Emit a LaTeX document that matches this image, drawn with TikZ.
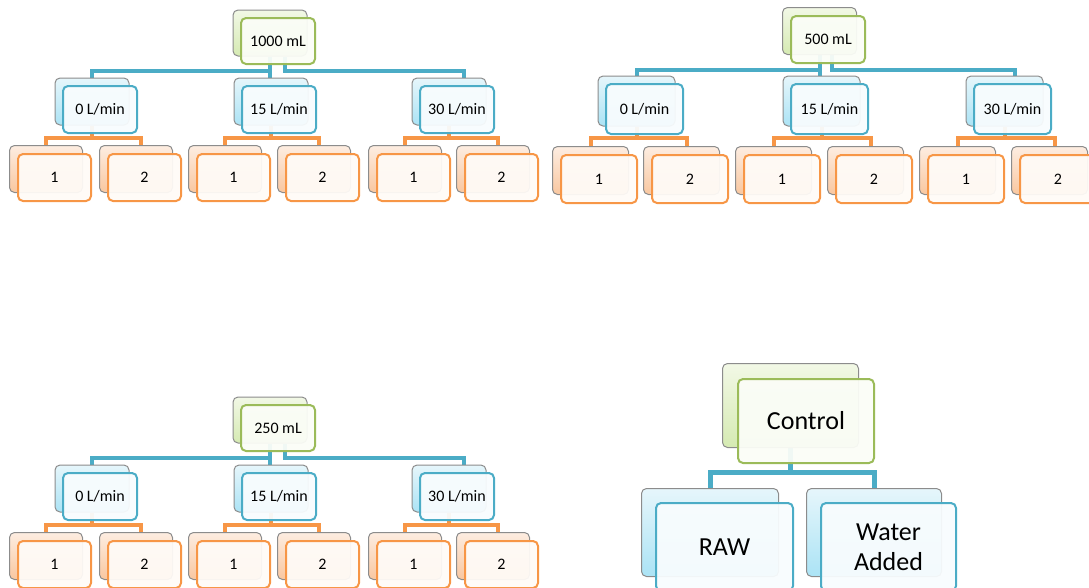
\documentclass[tikz,border=0pt]{standalone}
\usepackage{fontspec}
\setmainfont{Carlito}
\usetikzlibrary{calc}
\pgfdeclarelayer{bg}
\pgfsetlayers{bg,main}
\definecolor{grnB}{HTML}{9BBB59}
\definecolor{bluB}{HTML}{4BACC6}
\definecolor{orB}{HTML}{F79646}
\definecolor{backgray}{HTML}{8C8C8C}
\definecolor{gTop}{HTML}{F2F8E6}
\definecolor{gBot}{HTML}{D5EAB2}
\definecolor{bTop}{HTML}{E6F6FB}
\definecolor{bBot}{HTML}{ABE3F5}
\definecolor{oTop}{HTML}{FDEDE1}
\definecolor{oBot}{HTML}{F9C7A0}
\definecolor{gFr}{HTML}{FBFDF7}
\definecolor{bFr}{HTML}{F8FCFE}
\definecolor{oFr}{HTML}{FFFBF7}
\tikzset{
  box/.style={rounded corners=5pt, inner sep=0pt, anchor=north west, align=center,
    font=\fontsize{16}{19}\selectfont},
  backbox/.style={box, draw=backgray, line width=1pt},
  gback/.style={backbox, top color=gTop, bottom color=gBot},
  bback/.style={backbox, top color=bTop, bottom color=bBot},
  oback/.style={backbox, top color=oTop, bottom color=oBot},
  frontbox/.style={box, line width=2pt, fill opacity=0.94, text opacity=1},
  gfront/.style={frontbox, draw=grnB, fill=gFr},
  bfront/.style={frontbox, draw=bluB, fill=bFr},
  ofront/.style={frontbox, draw=orB, fill=oFr},
  bcon/.style={draw=bluB, line width=4pt},
  ocon/.style={draw=orB, line width=4pt},
  big/.style={font=\fontsize{26}{30}\selectfont},
}
% #1 name, #2 kind, #3 x, #4 y, #5 w, #6 h, #7 back offset, #8 text, #9 extra front options
\newcommand{\stk}[9]{%
  \node[#2back, minimum width=#5pt, minimum height=#6pt] (#1b) at ({#3-#7},{#4-#7}) {};
  \node[#2front, minimum width=#5pt, minimum height=#6pt, #9] (#1) at ({#3},{#4}) {#8};
}
% tree of the 1000 mL / 250 mL kind: #1 prefix, #2 vertical offset, #3 root label
\newcommand{\treeOne}[3]{%
  \stk{#1r}{g}{240}{17+#2}{74}{46}{7.5}{#3}{}
  \foreach \i/\x/\t in {1/62/0,2/241/15,3/419/30}
    {\stk{#1c\i}{b}{\x}{85+#2}{74}{47}{7.5}{{\t} L/min}{}}
  \foreach \j/\x/\t in {1/17/1,2/107/2,3/196/1,4/285/2,5/376/1,6/464/2}
    {\stk{#1l\j}{o}{\x}{153+#2}{73}{47}{8}{\t}{}}
  \begin{pgfonlayer}{bg}
    \coordinate (#1bus) at (0,71+#2);
    \coordinate (#1obus) at (0,138+#2);
    \draw[bcon] (#1rb.south) |- (#1c1b.north |- #1bus) -- (#1c1b.north);
    \draw[bcon] (#1rb.south) -- (#1rb.south |- #1c2b.north);
    \draw[bcon] ($(#1rb.south)+(15,0)$) |- ($(#1c3b.north |- #1bus)+(15,0)$) -- ($(#1c3b.north)+(15,0)$);
    \foreach \i/\l/\r in {1/1/2,2/3/4,3/5/6} {
      \draw[ocon] (#1c\i b.south) |- (#1l\l b.north |- #1obus) -- (#1l\l b.north);
      \draw[ocon] (#1c\i b.south) |- ($(#1l\r b.north |- #1obus)+(5,0)$) -- ($(#1l\r b.north)+(5,0)$);
    }
  \end{pgfonlayer}
}
\begin{document}
\begin{tikzpicture}[x=1pt,y=-1pt]
\useasboundingbox (0,0) rectangle (1089,587);
\clip (0,0) rectangle (1089,587);

% 1000 mL tree
\treeOne{A}{0}{1000 mL}
% 250 mL tree
\treeOne{D}{387}{250 mL}

% 500 mL tree
\stk{Br}{g}{790}{15}{74}{47}{8}{500 mL}{}
\foreach \i/\x/\t in {1/605/0,2/790/15,3/973/30}
  {\stk{Bc\i}{b}{\x}{83}{77}{50}{7.5}{{\t} L/min}{}}
\foreach \j/\x/\t in {1/560/1,2/651/2,3/743/1,4/835/2,5/927/1,6/1019/2}
  {\stk{Bl\j}{o}{\x}{154}{76}{48}{8}{\t}{}}
\begin{pgfonlayer}{bg}
  \coordinate (Bbus) at (0,70);
  \coordinate (Bobus) at (0,138);
  \draw[bcon] (Brb.south) |- (Bc1b.north |- Bbus) -- (Bc1b.north);
  \draw[bcon] (Brb.south) -- (Brb.south |- Bc2b.north);
  \draw[bcon] ($(Brb.south)+(12,0)$) |- ($(Bc3b.north |- Bbus)+(10,0)$) -- ($(Bc3b.north)+(10,0)$);
  \foreach \i/\l/\r in {1/1/2,2/3/4,3/5/6} {
    \draw[ocon] (Bc\i b.south) |- (Bl\l b.north |- Bobus) -- (Bl\l b.north);
    \draw[ocon] (Bc\i b.south) |- ($(Bl\r b.north |- Bobus)+(5,0)$) -- ($(Bl\r b.north)+(5,0)$);
  }
\end{pgfonlayer}

% Control tree
\stk{Cr}{g}{737}{378}{136}{84}{15}{Control}{big}
\stk{Cc1}{b}{655}{502}{137}{88}{14}{RAW}{big}
\stk{Cc2}{b}{820}{502}{135}{88}{14}{Water\\Added}{big}
\begin{pgfonlayer}{bg}
  \coordinate (Cbus) at (0,472);
  \draw[bcon, line width=5pt] (Crb.south) |- (Cc1b.north |- Cbus) -- (Cc1b.north);
  \draw[bcon, line width=5pt] (Crb.south) |- (Cc2b.north |- Cbus) -- (Cc2b.north);
\end{pgfonlayer}
\end{tikzpicture}
\end{document}
